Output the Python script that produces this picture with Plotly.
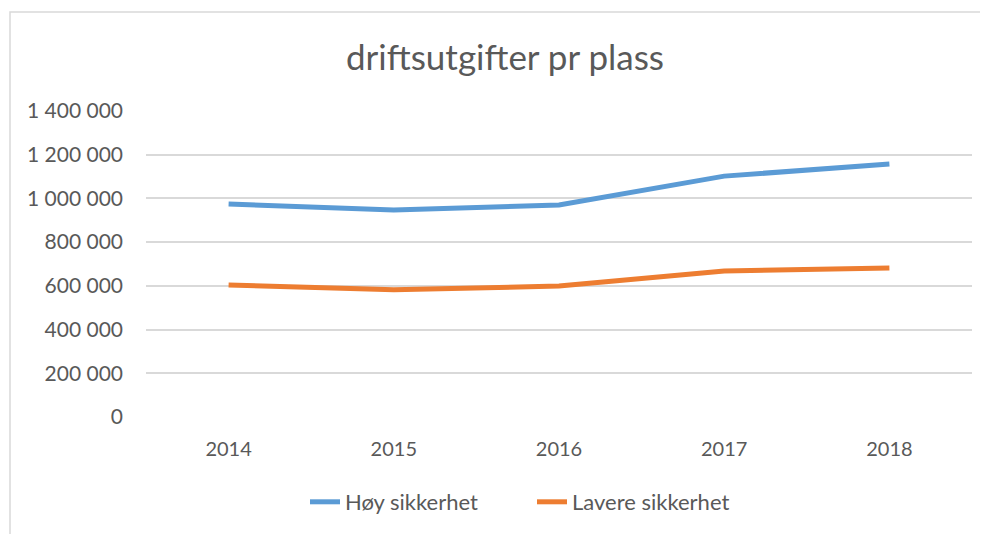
import plotly.graph_objects as go

years = ["2014", "2015", "2016", "2017", "2018"]
hoy = [974000, 947000, 970000, 1102000, 1157000]
lavere = [604000, 582000, 599000, 668000, 682000]
y_ticks = [0, 200000, 400000, 600000, 800000, 1000000, 1200000, 1400000]
y_tick_text = ["0", "200 000", "400 000", "600 000", "800 000", "1 000 000", "1 200 000", "1 400 000"]

FONT = "Lato"
TXT = "#595959"
OFF = 8  # page body margin

fig = go.Figure()
fig.add_trace(go.Scatter(x=years, y=hoy, mode="lines", name="Høy sikkerhet",
                         line=dict(color="#5b9bd5", width=5)))
fig.add_trace(go.Scatter(x=years, y=lavere, mode="lines", name="Lavere sikkerhet",
                         line=dict(color="#ed7d31", width=5)))

fig.update_layout(
    width=988, height=534,
    margin=dict(l=146 - OFF, r=16 + OFF, t=111 - OFF, b=117 + OFF),
    paper_bgcolor="white", plot_bgcolor="white",
    font=dict(family=FONT, color=TXT, size=20),
    title=dict(text="driftsutgifter pr plass", x=(505 - OFF) / 988, xanchor="center",
               y=1 - (58 - OFF) / 534, yanchor="middle",
               font=dict(family=FONT, size=35, color=TXT)),
    xaxis=dict(type="category", range=[-0.5, 4.5], showgrid=False, zeroline=False,
               showline=False, ticks="", ticklabelstandoff=18,
               tickfont=dict(size=20, color=TXT)),
    yaxis=dict(range=[0, 1400000], tickvals=y_ticks, ticktext=y_tick_text,
               showgrid=True, gridcolor="#d9d9d9", gridwidth=1.5, zeroline=False,
               showline=False, ticks="", ticklabelstandoff=22,
               tickfont=dict(size=21, color=TXT)),
    legend=dict(orientation="h", xref="container", yref="container",
                x=(532 - OFF) / 988, xanchor="center", y=1 - (502 - OFF) / 534, yanchor="middle",
                font=dict(size=22, color=TXT), entrywidth=182, entrywidthmode="pixels"),
    shapes=[dict(type="rect", xref="paper", yref="paper",
                 x0=(10 - 146) / 826, x1=1.1, y0=-0.5, y1=(417 - 12) / 306,
                 line=dict(color="#d9d9d9", width=1.5), fillcolor="rgba(0,0,0,0)",
                 layer="below")],
)

fig.write_html("out.html")
